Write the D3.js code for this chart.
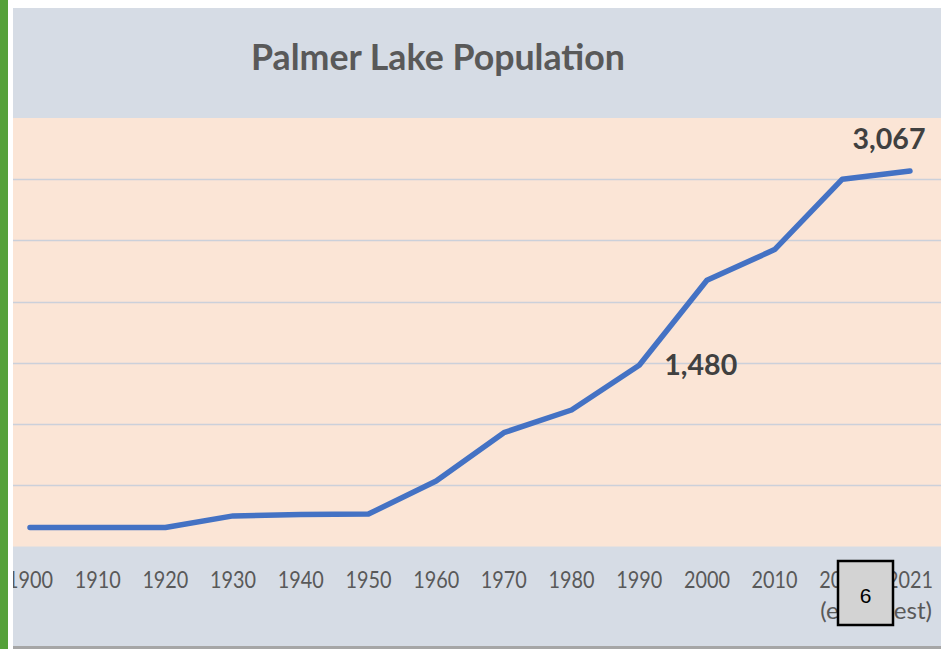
<!DOCTYPE html>
<html>
<head>
<meta charset="utf-8">
<script src="https://cdn.jsdelivr.net/npm/d3@7"></script>
<style>
    html, body { margin: 0; padding: 0; background: #ffffff; }
    svg { display: block; }
</style>
</head>
<body>
<svg id="chart" width="941" height="649"></svg>
<script>
// data
const years= ["1900", "1910", "1920", "1930", "1940", "1950", "1960", "1970", "1980", "1990", "2000", "2010", "2020", "2021"]
const population= [155, 155, 155, 250, 262, 265, 535, 930, 1115, 1480, 2175, 2425, 3000, 3067]
const tickLabels= [["1900"], ["1910"], ["1920"], ["1930"], ["1940"], ["1950"], ["1960"], ["1970"], ["1980"], ["1990"], ["2000"], ["2010"], ["2020", "(est)"], ["2021", "(est)"]]
const gridValues= [500, 1000, 1500, 2000, 2500, 3000]
const labelled= ["1990", "2021"]
const title= "Palmer Lake Population"
const pageNumber= "6"

// inits
const svg= d3.select("#chart")
const W= 941, H= 649
const chart= {x0: 13, y0: 8, x1: W, y1: 646}
const plot= {top: 118, bottom: 546.5}

// green margin strip on the left
svg.append("rect").attr("x", 0).attr("y", 0).attr("width", 8).attr("height", H).attr("fill", "#55a13a")

// clip everything to the visible chart area
svg.append("defs").append("clipPath").attr("id", "clip")
    .append("rect").attr("x", chart.x0).attr("y", chart.y0)
    .attr("width", chart.x1 - chart.x0).attr("height", chart.y1 - chart.y0)

const g= svg.append("g").attr("clip-path", "url(#clip)")

// backgrounds
g.append("rect").attr("x", chart.x0).attr("y", chart.y0)
    .attr("width", chart.x1 - chart.x0).attr("height", chart.y1 - chart.y0)
    .attr("fill", "#d6dce5")
g.append("rect").attr("x", chart.x0).attr("y", plot.top)
    .attr("width", chart.x1 - chart.x0).attr("height", plot.bottom - plot.top)
    .attr("fill", "#fbe5d6")
svg.append("rect").attr("x", chart.x0).attr("y", 646).attr("width", W - chart.x0).attr("height", 3)
    .attr("fill", "#a6a6a6")

// scales
const x= d3.scalePoint().domain(years).range([30, 910])
const y= d3.scaleLinear().domain([0, 3500]).range([plot.bottom, plot.top])

// gridlines
g.append("g").selectAll("line").data(gridValues).join("line")
    .attr("x1", chart.x0).attr("x2", chart.x1)
    .attr("y1", d => Math.round(y(d)) + 0.5).attr("y2", d => Math.round(y(d)) + 0.5)
    .attr("stroke", "#cbd0da").attr("stroke-width", 1.5)

// title
g.append("text")
    .attr("x", 438).attr("y", 70)
    .attr("text-anchor", "middle")
    .attr("font-family", "Lato, 'Open Sans', sans-serif")
    .attr("font-weight", "bold").attr("font-size", 36)
    .attr("fill", "#595959")
    .attr("textLength", 374).attr("lengthAdjust", "spacingAndGlyphs")
    .text(title)

// x axis labels
const xAxis= g.append("g")
tickLabels.forEach((lines, i) => {
    const t= xAxis.append("text")
        .attr("x", x(years[i])).attr("y", 588)
        .attr("text-anchor", "middle")
        .attr("font-family", "Lato, 'Open Sans', sans-serif")
        .attr("font-size", 23)
        .attr("fill", "#595959")
    lines.forEach((s, j) => {
        t.append("tspan")
            .attr("x", x(years[i])).attr("dy", j === 0 ? 0 : 31)
            .attr("textLength", s.length === 4 ? 46 : 44).attr("lengthAdjust", "spacingAndGlyphs")
            .text(s)
    })
})

// line
const line= d3.line().x((d, i) => x(years[i])).y(d => y(d))
g.append("path")
    .datum(population)
    .attr("d", line)
    .attr("fill", "none")
    .attr("stroke", "#4472c4").attr("stroke-width", 5.5)
    .attr("stroke-linejoin", "round").attr("stroke-linecap", "round")

// data labels
const fmt= d3.format(",")
const labelPos= {"1990": {dx: 25, dy: 10, anchor: "start"}, "2021": {dx: -21, dy: -22, anchor: "middle"}}
labelled.forEach(yr => {
    const i= years.indexOf(yr)
    const p= labelPos[yr]
    g.append("text")
        .attr("x", x(yr) + p.dx).attr("y", y(population[i]) + p.dy)
        .attr("text-anchor", p.anchor)
        .attr("font-family", "Lato, 'Open Sans', sans-serif")
        .attr("font-weight", "bold").attr("font-size", 28)
        .attr("fill", "#404040")
        .attr("textLength", 73).attr("lengthAdjust", "spacingAndGlyphs")
        .text(fmt(population[i]))
})

// page number box
svg.append("rect").attr("x", 838).attr("y", 561).attr("width", 55).attr("height", 64)
    .attr("fill", "#d3d3d3").attr("stroke", "#000000").attr("stroke-width", 2.5)
svg.append("text")
    .attr("x", 865.5).attr("y", 603)
    .attr("text-anchor", "middle")
    .attr("font-family", "'Liberation Sans', Arial, sans-serif")
    .attr("font-size", 21).attr("fill", "#000000")
    .text(pageNumber)
</script>
</body>
</html>
